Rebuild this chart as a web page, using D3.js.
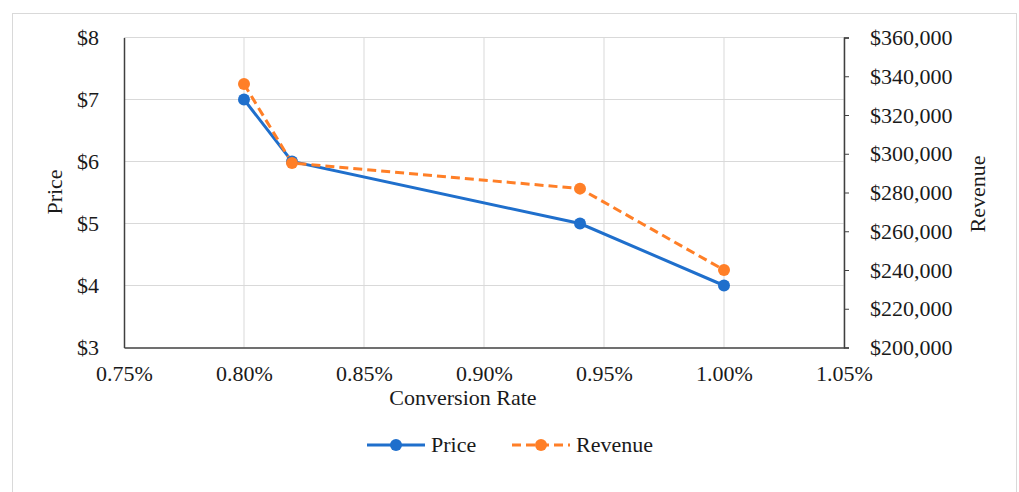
<!DOCTYPE html>
<html><head><meta charset="utf-8">
<script src="https://cdn.jsdelivr.net/npm/d3@7"></script>
<style>body{margin:0;background:#fff;} text{font-family:"Liberation Serif","Times New Roman",serif;fill:#1a1a1a;}</style>
</head><body>
<svg id="c" width="1019" height="492"></svg>
<script>
const conversionRate = [0.80, 0.82, 0.94, 1.00];
const price = [7, 6, 5, 4];
const revenue = [336000, 295200, 282000, 240000];
const xTicks = [0.75, 0.80, 0.85, 0.90, 0.95, 1.00, 1.05];
const priceTicks = [3, 4, 5, 6, 7, 8];
const revenueTicks = [200000, 220000, 240000, 260000, 280000, 300000, 320000, 340000, 360000];
const seriesNames = ["Price", "Revenue"];

const svg = d3.select("#c");
const blue = "#1f6fcc", orange = "#ff7f27";
const L = 124, R = 844, T = 37.5, B = 347.5;
const FS = 22;

svg.append("rect").attr("x", 12.5).attr("y", 13.5).attr("width", 1004).attr("height", 490)
  .attr("fill", "#fff").attr("stroke", "#d9d9d9");

const x = d3.scaleLinear().domain([0.75, 1.05]).range([L, R]);
const yP = d3.scaleLinear().domain([3, 8]).range([B, T]);
const yR = d3.scaleLinear().domain([200000, 360000]).range([B, T]);

// gridlines
svg.append("g").selectAll("line").data(xTicks.slice(1)).join("line")
  .attr("x1", d => x(d)).attr("x2", d => x(d)).attr("y1", T).attr("y2", B)
  .attr("stroke", "#d9d9d9").attr("stroke-width", 1);
svg.append("g").selectAll("line").data(priceTicks.slice(1)).join("line")
  .attr("x1", L).attr("x2", R).attr("y1", d => yP(d)).attr("y2", d => yP(d))
  .attr("stroke", "#d9d9d9").attr("stroke-width", 1);

// axes
const fmtPct = d => d.toFixed(2) + "%";
const gx = svg.append("g").attr("transform", `translate(0,${B})`)
  .call(d3.axisBottom(x).tickValues(xTicks).tickFormat(fmtPct).tickSize(0).tickPadding(18));
const gl = svg.append("g").attr("transform", `translate(${L},0)`)
  .call(d3.axisLeft(yP).tickValues(priceTicks).tickFormat(d => "$" + d).tickSize(0).tickPadding(25));
const gr = svg.append("g").attr("transform", `translate(${R},0)`)
  .call(d3.axisRight(yR).tickValues(revenueTicks).tickFormat(d => "$" + d3.format(",")(d)).tickSize(5).tickPadding(21));
[gx, gl, gr].forEach(g => {
  g.select(".domain").attr("stroke", "#404040").attr("stroke-width", 1.5);
  g.selectAll(".tick line").attr("stroke", "#404040");
  g.selectAll("text").attr("font-size", FS).attr("fill", "#1a1a1a")
    .attr("font-family", "'Liberation Serif','Times New Roman',serif");
});

// axis titles
svg.append("text").attr("x", 463).attr("y", 405).attr("text-anchor", "middle").attr("font-size", FS).text("Conversion Rate");
svg.append("text").attr("transform", "translate(62,192) rotate(-90)").attr("text-anchor", "middle").attr("font-size", FS).text("Price");
svg.append("text").attr("transform", "translate(985,194) rotate(-90)").attr("text-anchor", "middle").attr("font-size", FS).text("Revenue");

// series
const pData = conversionRate.map((c, i) => [c, price[i]]);
const rData = conversionRate.map((c, i) => [c, revenue[i]]);
svg.append("path").datum(pData).attr("fill", "none").attr("stroke", blue).attr("stroke-width", 3)
  .attr("d", d3.line().x(d => x(d[0])).y(d => yP(d[1])));
svg.append("path").datum(rData).attr("fill", "none").attr("stroke", orange).attr("stroke-width", 3)
  .attr("stroke-dasharray", "9,5")
  .attr("d", d3.line().x(d => x(d[0])).y(d => yR(d[1])));
svg.append("g").selectAll("circle").data(pData).join("circle")
  .attr("cx", d => x(d[0])).attr("cy", d => yP(d[1])).attr("r", 6).attr("fill", blue);
svg.append("g").selectAll("circle").data(rData).join("circle")
  .attr("cx", d => x(d[0])).attr("cy", d => yR(d[1])).attr("r", 6).attr("fill", orange);

// legend
const leg = [{name: seriesNames[0], color: blue, dash: null, x0: 367},
             {name: seriesNames[1], color: orange, dash: "9,5", x0: 512}];
const lg = svg.append("g");
leg.forEach(l => {
  lg.append("line").attr("x1", l.x0).attr("x2", l.x0 + 58).attr("y1", 445).attr("y2", 445)
    .attr("stroke", l.color).attr("stroke-width", 3).attr("stroke-dasharray", l.dash);
  lg.append("circle").attr("cx", l.x0 + 29).attr("cy", 445).attr("r", 6).attr("fill", l.color);
  lg.append("text").attr("x", l.x0 + 64).attr("y", 452).attr("font-size", FS).text(l.name);
});
</script>
</body></html>
